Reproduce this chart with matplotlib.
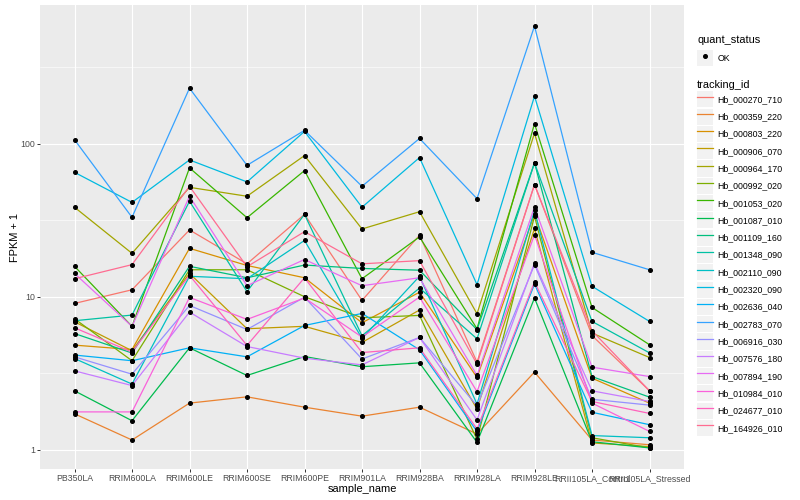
import numpy as np
import matplotlib
matplotlib.use("Agg")
import matplotlib.pyplot as plt
from matplotlib.lines import Line2D
from matplotlib.patches import Rectangle
from matplotlib.legend_handler import HandlerTuple

plt.rcParams['font.family'] = ['Liberation Sans', 'DejaVu Sans']

samples = ["PB350LA", "RRIM600LA", "RRIM600LE", "RRIM600SE", "RRIM600PE",
           "RRIM901LA", "RRIM928BA", "RRIM928LA", "RRIM928LE",
           "RRII105LA_Control", "RRII105LA_Stressed"]

tracking_ids = ["Hb_000270_710", "Hb_000359_220", "Hb_000803_220", "Hb_000906_070",
                "Hb_000964_170", "Hb_000992_020", "Hb_001053_020", "Hb_001087_010",
                "Hb_001109_160", "Hb_001348_090", "Hb_002110_090", "Hb_002320_090",
                "Hb_002636_040", "Hb_002783_070", "Hb_006916_030", "Hb_007576_180",
                "Hb_007894_190", "Hb_010984_010", "Hb_024677_010", "Hb_164926_010"]

# FPKM + 1, one list per gene, in sample order
s000270_710 = [9.04, 11.1, 27.3, 16.4, 34.5, 9.46, 25.2, 3.74, 54.0, 5.58, 2.43]
s000359_220 = [1.72, 1.16, 2.02, 2.22, 1.90, 1.66, 1.90, 1.27, 3.22, 1.16, 1.08]
s000803_220 = [4.83, 4.52, 20.7, 16.0, 13.3, 6.76, 10.7, 2.97, 34.7, 2.94, 2.02]
s000906_070 = [6.86, 4.44, 14.2, 6.18, 6.41, 5.03, 8.19, 1.85, 27.9, 1.11, 1.05]
s000964_170 = [38.4, 19.2, 51.8, 45.3, 83.5, 27.7, 35.9, 7.74, 117, 5.79, 4.01]
s000992_020 = [7.18, 3.82, 15.0, 15.0, 10.0, 7.29, 7.55, 1.17, 33.5, 1.20, 1.03]
s001053_020 = [15.8, 6.40, 69.4, 32.8, 66.6, 13.1, 24.6, 6.18, 135, 8.51, 4.86]
s001087_010 = [2.43, 1.55, 4.64, 3.06, 4.07, 3.49, 3.70, 1.12, 9.81, 1.13, 1.03]
s001109_160 = [5.75, 4.29, 15.8, 13.3, 16.1, 15.3, 14.9, 6.09, 74.8, 3.01, 2.21]
s001348_090 = [6.97, 7.59, 42.0, 10.8, 34.5, 5.56, 11.4, 5.31, 74.8, 6.90, 4.30]
s002110_090 = [3.95, 2.69, 13.6, 13.1, 23.3, 5.34, 13.6, 1.99, 36.6, 1.24, 1.20]
s002320_090 = [64.9, 41.3, 78.2, 56.2, 120, 38.4, 81.0, 12.0, 204, 11.7, 6.90]
s002636_040 = [4.16, 3.82, 4.64, 4.05, 6.49, 7.78, 4.50, 1.32, 12.1, 1.76, 1.46]
s002783_070 = [106, 33.0, 230, 72.1, 122, 52.6, 108, 43.7, 585, 19.5, 15.0]
s006916_030 = [4.05, 3.12, 8.77, 6.11, 9.93, 3.92, 5.42, 1.94, 16.2, 2.14, 1.96]
s007576_180 = [3.28, 2.63, 7.94, 4.73, 3.97, 3.59, 5.42, 1.57, 16.6, 2.43, 2.07]
s007894_190 = [14.2, 6.40, 45.3, 11.8, 17.5, 11.8, 13.3, 3.06, 38.6, 3.47, 3.01]
s010984_010 = [1.77, 1.77, 9.90, 7.11, 9.81, 5.45, 9.95, 2.40, 25.4, 2.02, 1.32]
s024677_010 = [6.27, 4.35, 13.8, 4.81, 13.3, 4.32, 4.64, 1.37, 12.5, 2.07, 1.73]
s164926_010 = [13.1, 16.2, 52.6, 15.7, 26.6, 16.4, 17.2, 3.63, 54.0, 6.00, 2.43]

series = [s000270_710, s000359_220, s000803_220, s000906_070, s000964_170,
          s000992_020, s001053_020, s001087_010, s001109_160, s001348_090,
          s002110_090, s002320_090, s002636_040, s002783_070, s006916_030,
          s007576_180, s007894_190, s010984_010, s024677_010, s164926_010]

# ggplot default hue palette for 20 levels
colors = ["#F8766D", "#EA8331", "#D89000", "#C09B00", "#A3A500", "#7CAE00",
          "#39B600", "#00BB4E", "#00BF7D", "#00C1A3", "#00BFC4", "#00BAE0",
          "#00B0F6", "#35A2FF", "#9590FF", "#C77CFF", "#E76BF3", "#FA62DB",
          "#FF62BC", "#FF6C91"]

fig = plt.figure(figsize=(8, 5), dpi=100)
ax = fig.add_axes([40 / 800, 31 / 500, 644 / 800, 464 / 500])
ax.set_facecolor("#EBEBEB")
for sp in ax.spines.values():
    sp.set_visible(False)

x = np.arange(len(samples))
for vals, col in zip(series, colors):
    ax.plot(x, vals, color=col, lw=0.9, zorder=2)
for vals in series:
    ax.plot(x, vals, ls="none", marker="o", ms=2.6, color="black", zorder=3)

ax.set_yscale("log")
allv = np.log10(np.concatenate([np.array(s) for s in series]))
lo, hi = allv.min(), allv.max()
pad = (hi - lo) * 0.05
ax.set_ylim(10 ** (lo - pad), 10 ** (hi + pad))
ax.set_xlim(-0.6, len(samples) - 0.4)

ax.set_yticks([1, 10, 100])
ax.set_yticklabels(["1", "10", "100"])
ax.set_yticks([10 ** 0.5, 10 ** 1.5, 10 ** 2.5], minor=True)
ax.yaxis.set_minor_formatter(matplotlib.ticker.NullFormatter())
ax.set_xticks(x)
ax.set_xticklabels(samples)

ax.grid(which="major", color="white", lw=0.8)
ax.grid(which="minor", axis="y", color="white", lw=0.4)
ax.set_axisbelow(True)
ax.tick_params(which="major", length=2, width=0.7, color="#333333",
               labelsize=6.3, labelcolor="#4D4D4D", pad=1.6)
ax.tick_params(which="minor", length=0)

ax.set_xlabel("sample_name", fontsize=7.9, labelpad=0.5)
ax.set_ylabel("FPKM + 1", fontsize=7.9, labelpad=0.5)

# legends (keys are grey boxes with the glyph drawn on top)
fs = 6.3
key_bg = "#F2F2F2"
tup = {tuple: HandlerTuple(ndivide=1, pad=0)}
h_ok = (Rectangle((0, 0), 1, 1, fc=key_bg, ec="none"),
        Line2D([], [], ls="none", marker="o", ms=2.6, color="black"))
leg1 = fig.legend([h_ok], ["OK"], title="quant_status", loc="upper left",
                  bbox_to_anchor=(697 / 800, 1 - 35 / 500), borderaxespad=0,
                  borderpad=0, frameon=False, fontsize=fs, title_fontsize=7.9,
                  handlelength=1.86, handleheight=2.45, handletextpad=0.45,
                  labelspacing=0.6, alignment="left", numpoints=1,
                  handler_map=tup)

handles = [(Rectangle((0, 0), 1, 1, fc=key_bg, ec="none"),
            Line2D([], [], color=c, lw=0.9)) for c in colors]
leg2 = fig.legend(handles, tracking_ids, title="tracking_id", loc="upper left",
                  bbox_to_anchor=(697 / 800, 1 - 80 / 500), borderaxespad=0,
                  borderpad=0, frameon=False, fontsize=fs, title_fontsize=7.9,
                  handlelength=1.86, handleheight=2.45, handletextpad=0.45,
                  labelspacing=0.14, alignment="left", numpoints=1,
                  handler_map=tup)

fig.savefig("out.png", dpi=100)
